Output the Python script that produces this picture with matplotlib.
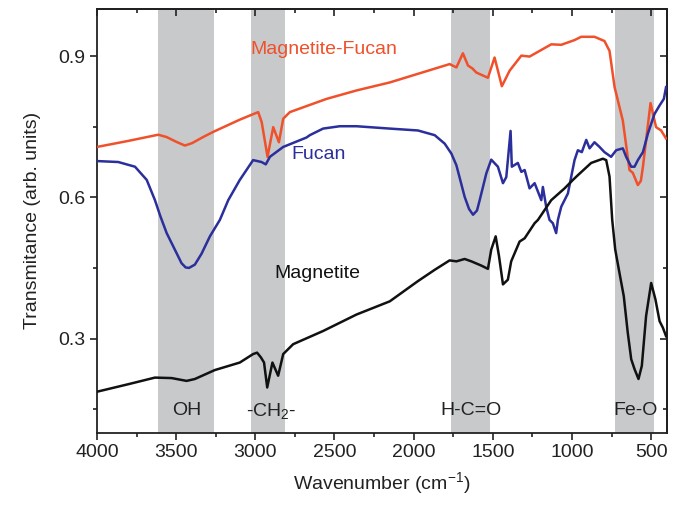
import numpy as np
import matplotlib
matplotlib.use("Agg")
import matplotlib.pyplot as plt
from matplotlib.ticker import MultipleLocator

plt.rcParams['font.family'] = ['Liberation Sans', 'DejaVu Sans']
plt.rcParams['mathtext.default'] = 'regular'

# Magnetite-Fucan (orange)
mf_wn = [4000, 3800, 3613, 3560, 3500, 3445, 3400, 3330, 3266, 3098, 2982, 2960, 2923, 2887, 2851, 2824, 2782,
         2551, 2361, 2151, 1773, 1730, 1689, 1657, 1630, 1604, 1531, 1489, 1443,
         1394, 1320, 1268, 1131, 1068, 984, 942, 858, 795, 763, 731, 679, 637,
         616, 584, 565, 552, 504, 469, 437, 406]
mf_t = [0.707, 0.720, 0.733, 0.728, 0.718, 0.710, 0.715, 0.728, 0.739, 0.765, 0.781, 0.760, 0.686, 0.749, 0.717, 0.767, 0.781,
        0.809, 0.827, 0.844, 0.883, 0.876, 0.906, 0.880, 0.874, 0.865, 0.854, 0.897, 0.836,
        0.869, 0.901, 0.899, 0.925, 0.924, 0.934, 0.941, 0.941, 0.932, 0.911, 0.834, 0.763, 0.658,
        0.652, 0.626, 0.635, 0.665, 0.800, 0.749, 0.742, 0.725]

# Fucan (blue)
fu_wn = [4000, 3866, 3760, 3686, 3634, 3600, 3560, 3510, 3466, 3440, 3419, 3382, 3340, 3287, 3224, 3171,
         3098, 3014, 2961, 2934, 2908, 2824, 2677, 2656, 2572, 2467, 2361, 2151,
         1973, 1867, 1804, 1762, 1730, 1678, 1650, 1625, 1600, 1583, 1541, 1510, 1468, 1436,
         1415, 1388, 1380, 1342, 1320, 1299, 1268, 1236, 1194, 1184, 1163, 1142,
         1121, 1100, 1089, 1068, 1047, 1026, 984, 963, 938, 910, 889, 858, 826,
         795, 753, 721, 679, 658, 626, 605, 584, 552, 521, 479, 447, 420, 406]
fu_t = [0.677, 0.675, 0.665, 0.637, 0.594, 0.560, 0.524, 0.490, 0.460, 0.451, 0.450, 0.457, 0.480, 0.517, 0.552, 0.594,
        0.637, 0.679, 0.675, 0.670, 0.686, 0.707, 0.727, 0.732, 0.746, 0.751, 0.751, 0.746,
        0.742, 0.732, 0.714, 0.693, 0.668, 0.601, 0.575, 0.563, 0.572, 0.594, 0.651, 0.680, 0.665, 0.630,
        0.643, 0.741, 0.665, 0.673, 0.654, 0.658, 0.619, 0.630, 0.594, 0.622, 0.580, 0.552,
        0.545, 0.524, 0.552, 0.580, 0.594, 0.608, 0.679, 0.700, 0.696, 0.722, 0.704, 0.717, 0.707,
        0.696, 0.686, 0.700, 0.704, 0.686, 0.665, 0.665, 0.679, 0.696, 0.735, 0.777, 0.795, 0.809, 0.834]

# Magnetite (black)
mg_wn = [4000, 3802, 3634, 3529, 3434, 3382, 3256, 3098, 3014, 2989, 2965, 2945,
         2925, 2892, 2856, 2824, 2761, 2572, 2361, 2151, 1973, 1867, 1773, 1730,
         1678, 1636, 1573, 1531, 1510, 1482, 1461, 1436, 1405, 1384, 1331, 1299,
         1236, 1215, 1131, 1047, 994, 963, 879, 805, 784, 763, 746, 727, 700, 673,
         648, 626, 605, 580, 559, 532, 500, 473, 447, 426, 406]
mg_t = [0.187, 0.203, 0.217, 0.216, 0.210, 0.214, 0.233, 0.249, 0.267, 0.270, 0.260, 0.249,
        0.196, 0.249, 0.221, 0.267, 0.288, 0.316, 0.351, 0.379, 0.422, 0.446, 0.466, 0.464,
        0.469, 0.464, 0.455, 0.448, 0.489, 0.517, 0.475, 0.415, 0.425, 0.464, 0.506, 0.513,
        0.545, 0.552, 0.594, 0.619, 0.637, 0.647, 0.673, 0.682, 0.679, 0.644, 0.552, 0.489, 0.439, 0.390,
        0.313, 0.256, 0.235, 0.214, 0.242, 0.348, 0.418, 0.383, 0.337, 0.323, 0.305]

# shaded bands (start, end) and their labels
bands = [(3613, 3262), (3028, 2810), (1766, 1518), (731, 479)]
band_labels = ['OH', '-CH$_2$-', 'H-C=O', 'Fe-O']
band_label_x = [3435, 2898, 1635, 600]

fig = plt.figure(figsize=(6.86, 5.07), dpi=100)
ax = fig.add_axes([0.1414, 0.1466, 0.8309, 0.8356])

for (a, b), lab, lx in zip(bands, band_labels, band_label_x):
    ax.axvspan(b, a, color='#c8c9cb', lw=0, zorder=0)
    ax.text(lx, 0.147, lab, ha='center', va='center', fontsize=14, color='#222222')

ax.plot(mf_wn, mf_t, color='#f0502a', lw=1.8, zorder=3)
ax.plot(fu_wn, fu_t, color='#2a2f9c', lw=1.8, zorder=3)
ax.plot(mg_wn, mg_t, color='#111111', lw=1.8, zorder=3)

ax.text(2570, 0.915, 'Magnetite-Fucan', color='#f0502a', fontsize=14, ha='center', va='center')
ax.text(2600, 0.691, 'Fucan', color='#2a2f9c', fontsize=14, ha='center', va='center')
ax.text(2610, 0.438, 'Magnetite', color='#111111', fontsize=14, ha='center', va='center')

ax.set_xlim(4000, 400)
ax.set_ylim(0.1, 1.0)
ax.xaxis.set_major_locator(MultipleLocator(500))
ax.xaxis.set_minor_locator(MultipleLocator(250))
ax.yaxis.set_minor_locator(MultipleLocator(0.15))
ax.set_yticks([0.3, 0.6, 0.9])
ax.set_yticklabels(['0.3', '0.6', '0.9'])

ax.tick_params(which='both', direction='out', top=False, right=False, labelsize=14,
               width=1.2, colors='#222222')
ax.tick_params(which='major', length=5)
ax.tick_params(which='minor', length=3)
for sp in ax.spines.values():
    sp.set_linewidth(1.3)
    sp.set_color('#222222')

# inward ticks on top and right
sec_x = ax.secondary_xaxis('top')
sec_x.xaxis.set_major_locator(MultipleLocator(500))
sec_x.xaxis.set_minor_locator(MultipleLocator(250))
sec_x.tick_params(which='both', direction='in', labeltop=False, width=1.2, colors='#222222')
sec_x.tick_params(which='major', length=5)
sec_x.tick_params(which='minor', length=3)
sec_x.spines['top'].set_linewidth(1.3)
sec_y = ax.secondary_yaxis('right')
sec_y.yaxis.set_major_locator(MultipleLocator(0.3))
sec_y.yaxis.set_minor_locator(MultipleLocator(0.15))
sec_y.tick_params(which='both', direction='in', labelright=False, width=1.2, colors='#222222')
sec_y.tick_params(which='major', length=5)
sec_y.tick_params(which='minor', length=3)
sec_y.spines['right'].set_linewidth(1.3)

ax.set_xlabel('Wavenumber (cm$^{-1}$)', fontsize=14, color='#222222', labelpad=6)
ax.set_ylabel('Transmitance (arb. units)', fontsize=14, color='#222222', labelpad=12)

fig.savefig('out.png', dpi=100)
